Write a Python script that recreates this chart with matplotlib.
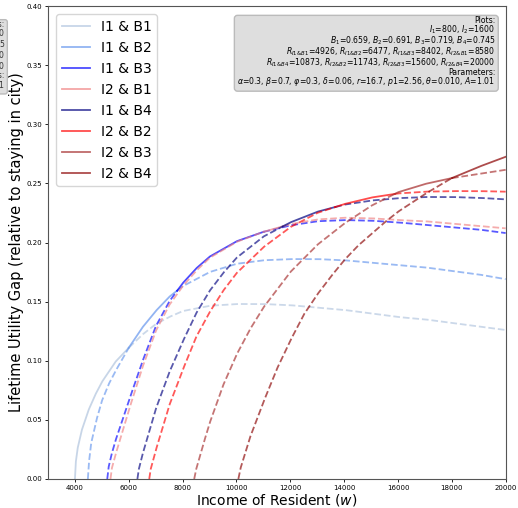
import numpy as np
import matplotlib
matplotlib.use('Agg')
import matplotlib.pyplot as plt

# curves: income w -> lifetime utility gap
labels = ['I1 & B1', 'I1 & B2', 'I1 & B3', 'I2 & B1',
          'I1 & B4', 'I2 & B2', 'I2 & B3', 'I2 & B4']
colors = ['lightsteelblue', 'cornflowerblue', 'blue', 'lightcoral',
          'navy', 'red', 'brown', 'darkred']

w_i1b1 = [4000, 4030, 4100, 4250, 4500, 4750, 5000, 5500, 6000, 6500, 7000, 7500, 8000,
          9000, 10000, 11000, 12000, 13000, 14000, 15000, 16000, 17000, 18000, 19000, 20000]
g_i1b1 = [0.0, 0.014, 0.026, 0.041, 0.058, 0.071, 0.082, 0.099, 0.111, 0.122, 0.131, 0.137, 0.142,
          0.1465, 0.148, 0.148, 0.147, 0.145, 0.143, 0.140, 0.137, 0.135, 0.132, 0.129, 0.126]

w_i1b2 = [4480, 4520, 4600, 4800, 5000, 5250, 5500, 6000, 6500, 7000, 7500, 8000, 9000, 10000,
          11000, 12000, 13000, 14000, 15000, 16000, 17000, 18000, 19000, 20000]
g_i1b2 = [0.0, 0.014, 0.03, 0.05, 0.066, 0.08, 0.091, 0.111, 0.128, 0.142, 0.154, 0.163, 0.175, 0.182,
          0.185, 0.186, 0.186, 0.185, 0.183, 0.181, 0.179, 0.176, 0.173, 0.169]

w_i1b3 = [5200, 5250, 5350, 5500, 6000, 6500, 7000, 7500, 8000, 8500, 9000, 10000, 11000,
          12000, 13000, 14000, 15000, 16000, 17000, 18000, 19000, 20000]
g_i1b3 = [0.0, 0.01, 0.02, 0.032, 0.066, 0.099, 0.129, 0.15, 0.1655, 0.178, 0.188, 0.201, 0.209,
          0.2145, 0.218, 0.219, 0.2185, 0.217, 0.215, 0.213, 0.211, 0.208]

w_i2b1 = [5320, 5370, 5500, 6000, 6500, 7000, 7500, 8000, 8500, 9000, 10000, 11000,
          12000, 13000, 14000, 15000, 16000, 17000, 18000, 19000, 20000]
g_i2b1 = [0.0, 0.009, 0.02, 0.058, 0.094, 0.125, 0.147, 0.163, 0.176, 0.187, 0.2005, 0.209,
          0.2155, 0.2195, 0.221, 0.2205, 0.219, 0.218, 0.216, 0.214, 0.212]

w_i1b4 = [6320, 6370, 6500, 7000, 7500, 8000, 8500, 9000, 9500, 10000, 11000, 12000,
          13000, 14000, 15000, 16000, 17000, 18000, 19000, 20000]
g_i1b4 = [0.0, 0.008, 0.02, 0.059, 0.09, 0.116, 0.14, 0.159, 0.174, 0.187, 0.205, 0.217,
          0.226, 0.232, 0.2355, 0.2375, 0.2385, 0.2385, 0.2378, 0.2365]

w_i2b2 = [6760, 6810, 7000, 7500, 8000, 8500, 9000, 9500, 10000, 11000, 12000, 13000,
          14000, 15000, 16000, 17000, 18000, 19000, 20000]
g_i2b2 = [0.0, 0.008, 0.024, 0.062, 0.092, 0.12, 0.141, 0.159, 0.174, 0.196, 0.213, 0.225,
          0.2325, 0.238, 0.2415, 0.243, 0.2435, 0.2435, 0.243]

w_i2b3 = [8430, 8500, 8750, 9000, 9500, 10000, 10500, 11000, 12000, 13000, 14000,
          15000, 16000, 17000, 18000, 19000, 20000]
g_i2b3 = [0.0, 0.008, 0.028, 0.047, 0.079, 0.105, 0.1265, 0.145, 0.175, 0.198, 0.216,
          0.231, 0.2425, 0.2495, 0.2545, 0.258, 0.2615]

w_i2b4 = [10070, 10150, 10500, 11000, 11500, 12000, 12500, 13000, 13500, 14000, 14500,
          15000, 15500, 16000, 17000, 18000, 19000, 20000]
g_i2b4 = [0.0, 0.009, 0.035, 0.065, 0.093, 0.117, 0.139, 0.156, 0.171, 0.185, 0.197,
          0.207, 0.217, 0.226, 0.241, 0.2545, 0.264, 0.2725]

curves_w = [w_i1b1, w_i1b2, w_i1b3, w_i2b1, w_i1b4, w_i2b2, w_i2b3, w_i2b4]
curves_g = [g_i1b1, g_i1b2, g_i1b3, g_i2b1, g_i1b4, g_i2b2, g_i2b3, g_i2b4]

info = ("Plots:\n"
        "$I_1$=800, $I_2$=1600\n"
        "$B_1$=0.659, $B_2$=0.691, $B_3$=0.719, $B_4$=0.745\n"
        "$R_{I1&B1}$=4926, $R_{I1&B2}$=6477, $R_{I1&B3}$=8402, $R_{I2&B1}$=8580\n"
        "$R_{I1&B4}$=10873, $R_{I2&B2}$=11743, $R_{I2&B3}$=15600, $R_{I2&B4}$=20000\n"
        "Parameters:\n"
        "$\\alpha$=0.3, $\\beta$=0.7, $\\varphi$=0.3, $\\delta$=0.06, $r$=16.7, "
        "$p1$=2.56, $\\theta$=0.010, $A$=1.01")

fig = plt.figure(figsize=(5.18, 5.08), dpi=100)
ax = fig.add_axes([0.0927, 0.0571, 0.8835, 0.931])

# best option at each income is drawn solid, the rest dashed
grid = np.linspace(3000, 20000, 3401)
Y = np.full((len(labels), grid.size), np.nan)
for i, (w, g) in enumerate(zip(curves_w, curves_g)):
    m = (grid >= w[0]) & (grid <= w[-1])
    Y[i, m] = np.interp(grid[m], w, g)
filled = np.where(np.isnan(Y), -np.inf, Y)
best = np.where(np.all(np.isnan(Y), axis=0), -1, np.argmax(filled, axis=0))

for i, lab in enumerate(labels):
    top = best == i
    top_wide = top | np.roll(top, 1) | np.roll(top, -1)
    ax.plot(grid, np.where(top_wide, Y[i], np.nan), color=colors[i], lw=1.3,
            alpha=0.7, label=lab)
    ax.plot(grid, np.where(~top, Y[i], np.nan), color=colors[i], lw=1.3,
            alpha=0.65, ls='--')

ax.set_xlim(3000, 20000)
ax.set_ylim(0, 0.40)
ax.set_xticks(np.arange(4000, 20001, 2000))
ax.set_yticks(np.arange(0, 0.401, 0.05))
ax.tick_params(labelsize=5, length=2.5, width=0.6, pad=2.0)
for s in ax.spines.values():
    s.set_color('#555555')
ax.set_xlabel('Income of Resident ($w$)', fontsize=10)
ax.set_ylabel('Lifetime Utility Gap (relative to staying in city)', fontsize=10.5)
ax.xaxis.set_label_coords(0.5, -0.027)
ax.yaxis.set_label_coords(-0.052, 0.5)
ax.legend(loc='upper left', fontsize=10, handlelength=2.0, borderaxespad=0.6)
ax.text(0.977, 0.978, info, transform=ax.transAxes, ha='right', va='top',
        fontsize=5.6, linespacing=0.82,
        bbox=dict(boxstyle='round,pad=0.4', facecolor='#dedede', edgecolor='#bbbbbb'))

# clipped edge of the neighbouring panel's info box
fig.text(5 / 518, 1 - 20 / 508, info, ha='right', va='top', fontsize=5.6,
         linespacing=0.82, color='#333333',
         bbox=dict(boxstyle='round,pad=0.3', facecolor='#dedede', edgecolor='#bbbbbb'))

plt.savefig('out.png', dpi=100)
